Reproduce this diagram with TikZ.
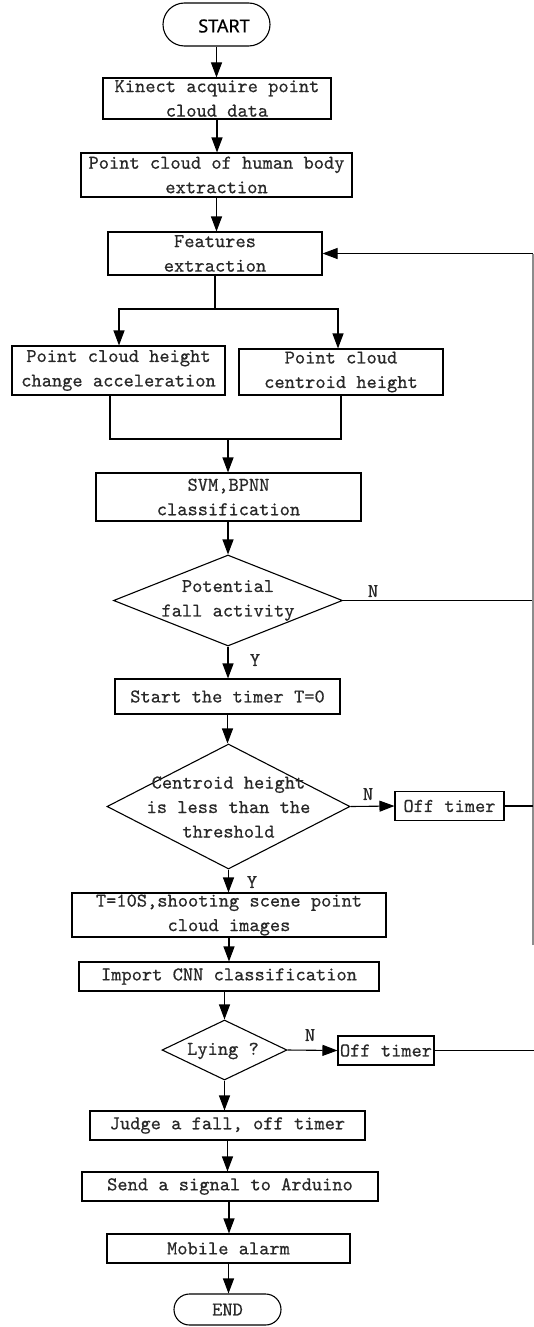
\documentclass[tikz,border=0pt]{standalone}
\usepackage{fontspec}
\newfontfamily\startfont{Noto Sans}[FakeBold=0.6]
\newfontfamily\monofont{lmmono10-regular}[Extension=.otf, FakeBold=0.5]
\usetikzlibrary{arrows.meta,shapes.geometric,shapes.misc}
\definecolor{txtgray}{RGB}{40,40,40}
\tikzset{
  txt/.style={font=\fontsize{19.5}{24.5}\selectfont\monofont, text=txtgray, align=center, inner sep=0pt},
  box/.style={txt, draw=black, line width=1.1pt, rectangle},
  dia/.style={draw, line width=1.1pt, diamond, inner sep=0pt},
  term/.style={txt, draw=black, line width=1.1pt, rounded rectangle},
  lbl/.style={txt},
  line/.style={line width=1.1pt},
  arr/.style={line width=1.1pt, -{Triangle[length=15pt,width=11pt]}},
  back/.style={line width=1.1pt, draw=black!45}
}
\begin{document}
\begin{tikzpicture}[x=1pt,y=-1pt]
\useasboundingbox[fill=white] (0,0) rectangle (534,1327);
% terminals
\node[term, minimum width=107pt, minimum height=43pt] (start) at (216.5,24.5) {};
\node[inner sep=0pt, text=black, font=\startfont\fontsize{18}{20}\selectfont] (starttxt) at (224,26) {START};
\node[term, minimum width=107pt, minimum height=31pt] (end) at (227.5,1309.5) {END};
% boxes
\node[box, minimum width=228pt, minimum height=41pt] (kin) at (217,98.5) {Kinect acquire point\\cloud data};
\node[box, minimum width=271pt, minimum height=44pt] (body) at (216.5,175) {Point cloud of human body\\extraction};
\node[box, minimum width=214pt, minimum height=43pt] (feat) at (215,253.5) {Features\\extraction};
\node[box, minimum width=213pt, minimum height=49pt] (pl) at (118.5,370.5) {Point cloud height\\change acceleration};
\node[box, minimum width=204pt, minimum height=46pt] (pr) at (341,372) {Point cloud\\centroid height};
\node[box, minimum width=265pt, minimum height=48pt] (svm) at (228.5,497) {SVM,BPNN\\classification};
\node[dia, minimum width=229pt, minimum height=91pt] (d1) at (228,600.5) {};
\node[lbl] (d1t) at (228,600.5) {Potential\\fall activity};
\node[box, minimum width=225pt, minimum height=35pt] (tim) at (227.5,696.5) {Start the timer T=0};
\node[dia, minimum width=243pt, minimum height=125pt] (d2) at (228.5,806.5) {};
\node[lbl] (d2t) at (228.5,807) {Centroid height\\is less than the\\threshold};
\node[box, minimum width=109pt, minimum height=29pt] (off1) at (449.5,806) {Off timer};
\node[box, minimum width=314pt, minimum height=44pt] (t10) at (229,915) {T=10S,shooting scene point\\cloud images};
\node[box, minimum width=300pt, minimum height=29pt] (imp) at (229,976.5) {Import CNN classification};
\node[dia, minimum width=125pt, minimum height=60pt] (d3) at (224.5,1050) {};
\node[lbl] (d3t) at (223,1051) {Lying ?};
\node[box, minimum width=96pt, minimum height=29pt] (off2) at (386,1050.5) {Off timer};
\node[box, minimum width=275pt, minimum height=29pt] (judge) at (227.5,1125.5) {Judge a fall, off timer};
\node[box, minimum width=296pt, minimum height=29pt] (send) at (230,1186.5) {Send a signal to Arduino};
\node[box, minimum width=243pt, minimum height=29pt] (mob) at (228.5,1248.5) {Mobile alarm};
% labels
\node[lbl] (n1) at (373,591) {N};
\node[lbl] (y1) at (255,660) {Y};
\node[lbl] (n2) at (368,794) {N};
\node[lbl] (y2) at (252,882) {Y};
\node[lbl] (n3) at (310,1035) {N};
% coordinates
\coordinate (bj) at (215,309);
\coordinate (mj) at (228,439);
\coordinate (rt) at (533,253.5);
\coordinate (rb) at (533,945);
\coordinate (r1) at (533,600.5);
\coordinate (r2) at (533,806);
\coordinate (r3) at (534,1050.5);
% connectors
\draw[arr] (start.south) -- (start.south |- kin.north);
\draw[arr] (kin.south) -- (kin.south |- body.north);
\draw[arr] (body.south) -- (body.south |- feat.north);
\draw[line] (feat.south) -- (bj);
\draw[arr] (bj) -| ([xshift=0.5pt]pl.north);
\draw[arr] (bj) -| ([xshift=-3pt]pr.north);
\draw[line] ([xshift=-8.5pt]pl.south) |- (mj) -| (pr.south);
\draw[arr] (mj) -- (mj |- svm.north);
\draw[arr] (svm.south) -- (svm.south -| d1.north) -- (d1.north);
\draw[line] (d1.east) -- (r1);
\draw[back] (rb) -- (rt);
\draw[arr] (rt) -- (feat.east);
\draw[arr] (d1.south) -- (d1.south |- tim.north);
\draw[arr] (tim.south) -- (tim.south |- d2.north);
\draw[arr] (d2.east) -- (off1.west);
\draw[line] (off1.east) -- (r2);
\draw[arr] (d2.south) -- (d2.south |- t10.north);
\draw[arr] (t10.south) -- (t10.south |- imp.north);
\draw[arr] (d3.north |- imp.south) -- (d3.north);
\draw[arr] (d3.east) -- (off2.west);
\draw[line] (off2.east) -- (r3);
\draw[arr] (d3.south) -- (d3.south |- judge.north);
\draw[arr] (judge.south) -- (judge.south |- send.north);
\draw[arr] ([xshift=-1pt]send.south) -- ([xshift=-1pt]send.south |- mob.north);
\draw[arr] (mob.south) -- (mob.south |- end.north);
\end{tikzpicture}
\end{document}
